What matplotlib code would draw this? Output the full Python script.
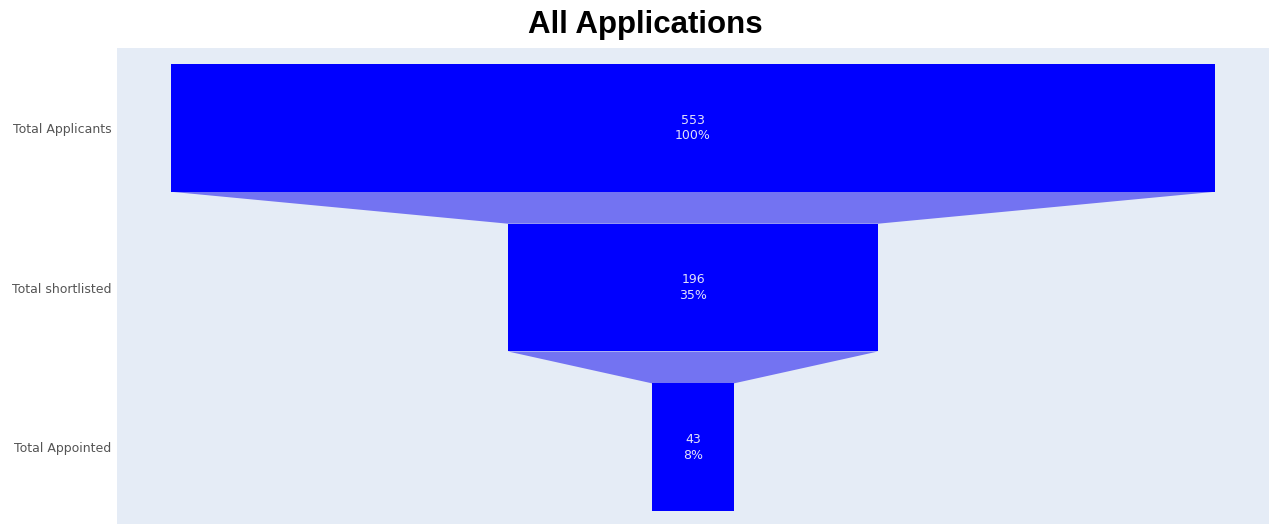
import numpy as np
import matplotlib
matplotlib.use('Agg')
import matplotlib.pyplot as plt
from matplotlib.patches import Polygon

stages = ['Total Applicants', 'Total shortlisted', 'Total Appointed']
counts = [553, 196, 43]

bar_color = '#0000FF'
link_color = '#7373F2'
bg_color = '#E5ECF6'

fig = plt.figure(figsize=(12.69, 5.24), dpi=100)
ax = fig.add_axes([117 / 1269, 0.0, 1 - 117 / 1269, 1 - 48 / 524])
ax.set_facecolor(bg_color)

y = np.arange(len(counts))
bar_h = 0.8
values = np.array(counts, dtype=float)
ax.barh(y, values, left=-values / 2, height=bar_h, color=bar_color, zorder=3)

# connectors between consecutive stages
for i in range(len(values) - 1):
    top, bot = values[i], values[i + 1]
    y0 = y[i] + bar_h / 2
    y1 = y[i + 1] - bar_h / 2
    poly = Polygon([(-top / 2, y0), (top / 2, y0), (bot / 2, y1), (-bot / 2, y1)],
                   closed=True, facecolor=link_color, edgecolor='none', zorder=2)
    ax.add_patch(poly)

for yi, v in zip(y, counts):
    pct = round(v / counts[0] * 100)
    ax.text(0, yi, f'{v}\n{pct}%', ha='center', va='center', color='#E2E2FA',
            fontsize=9, linespacing=1.25, zorder=4)

half = counts[0] / 2 * 1152 / 1044
ax.set_xlim(-half, half)
ax.set_ylim(2.48, -0.5)
ax.set_xticks([])
ax.set_yticks(y)
ax.set_yticklabels(stages, fontsize=9, color='#555555')
ax.tick_params(axis='y', length=0, pad=4)
for s in ax.spines.values():
    s.set_visible(False)

fig.text(645 / 1269, 1 - 25 / 524, 'All Applications', ha='center', va='center',
         fontsize=22.5, fontweight='bold', family='Liberation Sans')

fig.savefig('out.png', dpi=100, facecolor='white')
